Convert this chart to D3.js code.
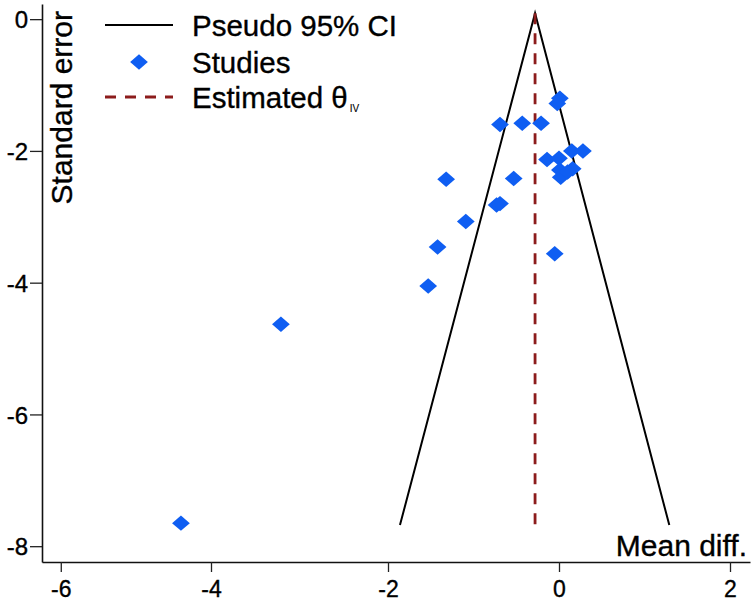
<!DOCTYPE html>
<html>
<head>
<meta charset="utf-8">
<script src="https://cdn.jsdelivr.net/npm/d3@7"></script>
<style>
  body { margin: 0; background: #fff; }
  svg text { font-family: "Liberation Sans", Arial, sans-serif; fill: #000; stroke: #000; stroke-width: 0.35px; }
</style>
</head>
<body>
<div id="chart"></div>
<script>
// study estimates (mean difference) and their y value (plotted standard error)
const studyMD = [-4.40, -3.21, -1.53, -1.42, -1.09, -1.32, -0.73, -0.69, -0.53, -0.69, -0.43, -0.21,
                 -0.05, 0.01, -0.02, 0.15, 0.28, -0.14, 0.00, 0.01, 0.16, 0.02, 0.10];
const studySE = [-7.65, -4.63, -4.05, -3.46, -3.07, -2.43, -2.82, -2.80, -2.42, -1.60, -1.58, -1.58,
                 -3.56, -1.20, -1.28, -2.00, -2.00, -2.13, -2.11, -2.29, -2.27, -2.40, -2.32];

// pseudo 95% CI lines and the estimate line
const thetaIV = -0.28;
const ciSE = [0.09, -7.68];
const ciLeft = [-0.28, -1.86];
const ciRight = [-0.28, 1.29];

const xTicks = [-6, -4, -2, 0, 2];
const yTicks = [0, -2, -4, -6, -8];

const width = 754, height = 604;

const svg = d3.select("#chart").append("svg")
    .attr("width", width)
    .attr("height", height);

// the x axis of the picture is not evenly spaced, so a piecewise scale
const x = d3.scaleLinear()
    .domain([-6.25, -4, -2, 0, 2, 2.23])
    .range([42, 211, 388, 559, 730, 750]);

const y = d3.scaleLinear()
    .domain([-8.24, 0.23])
    .range([562, 4]);

// axes
const xAxis = d3.axisBottom(x).tickValues(xTicks).tickSize(10).tickSizeOuter(0)
    .tickFormat(d => d3.format("d")(d).replace("−", "-"));
svg.append("g")
    .attr("transform", "translate(0,562)")
    .call(xAxis)
    .call(g => g.select(".domain").attr("stroke", "#111").attr("stroke-width", 1.6))
    .call(g => g.selectAll(".tick line").attr("stroke", "#222").attr("stroke-width", 1.3))
    .call(g => g.selectAll(".tick text")
        .attr("y", 35).attr("dy", 0)
        .attr("font-size", 23));

const yAxis = d3.axisLeft(y).tickValues(yTicks).tickSize(12).tickSizeOuter(0)
    .tickFormat(d => d3.format("d")(d).replace("−", "-"));
svg.append("g")
    .attr("transform", "translate(42,0)")
    .call(yAxis)
    .call(g => g.select(".domain").attr("stroke", "#111").attr("stroke-width", 1.6))
    .call(g => g.selectAll(".tick text")
        .attr("x", -14).attr("dy", "0.36em")
        .attr("font-size", 24))
    .call(g => g.selectAll(".tick line").attr("stroke", "#222").attr("stroke-width", 1.3));

// axis titles
svg.append("text")
    .attr("x", 747)
    .attr("y", 556)
    .attr("text-anchor", "end")
    .attr("font-size", 30)
    .text("Mean diff.");

svg.append("text")
    .attr("transform", "translate(72,11) rotate(-90)")
    .attr("text-anchor", "end")
    .attr("font-size", 30)
    .text("Standard error");

// funnel
const line = d3.line().x(d => x(d[0])).y(d => y(d[1]));
svg.append("path")
    .attr("d", line([[ciLeft[1], ciSE[1]], [ciLeft[0], ciSE[0]], [ciRight[1], ciSE[1]]]))
    .attr("fill", "none")
    .attr("stroke", "#000")
    .attr("stroke-width", 2);

svg.append("line")
    .attr("x1", x(thetaIV)).attr("x2", x(thetaIV))
    .attr("y1", y(ciSE[0])).attr("y2", y(ciSE[1]))
    .attr("stroke", "#8c1c1c")
    .attr("stroke-width", 2.8)
    .attr("stroke-dasharray", "11,9");

// studies
const diamond = d3.symbol().type(d3.symbolSquare).size(135);
svg.append("g")
  .selectAll("path")
  .data(studyMD.map((d, i) => [d, studySE[i]]))
  .join("path")
    .attr("d", diamond)
    .attr("transform", d => `translate(${x(d[0])},${y(d[1])}) scale(1.08,0.94) rotate(45)`)
    .attr("fill", "#0f5ef2");

// legend
const leg = svg.append("g");
leg.append("line")
    .attr("x1", 105).attr("x2", 173).attr("y1", 25).attr("y2", 25)
    .attr("stroke", "#000").attr("stroke-width", 2);
leg.append("text").attr("x", 192).attr("y", 36).attr("font-size", 29.5).text("Pseudo 95% CI");

leg.append("path")
    .attr("d", diamond)
    .attr("transform", "translate(139,62) scale(1.08,0.94) rotate(45)")
    .attr("fill", "#0f5ef2");
leg.append("text").attr("x", 192).attr("y", 73).attr("font-size", 29.5).text("Studies");

leg.append("line")
    .attr("x1", 105).attr("x2", 173).attr("y1", 97).attr("y2", 97)
    .attr("stroke", "#8c1c1c").attr("stroke-width", 2.8)
    .attr("stroke-dasharray", "11,9");
const est = leg.append("text").attr("x", 192).attr("y", 108).attr("font-size", 29.5);
est.append("tspan").text("Estimated θ");
est.append("tspan").attr("font-size", 10).attr("dy", 4).attr("dx", 2)
    .style("stroke-width", "0.1px").text("IV");
</script>
</body>
</html>
